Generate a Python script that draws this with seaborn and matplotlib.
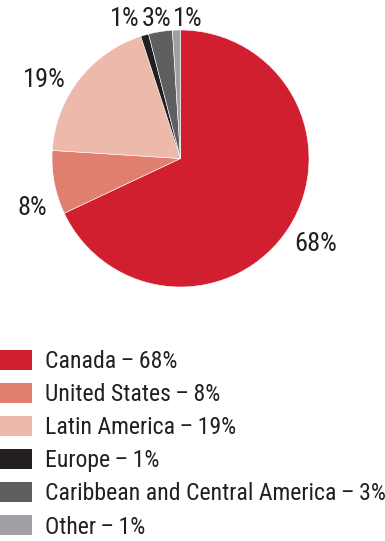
import numpy as np
import seaborn as sns
from matplotlib import pyplot as plt
from matplotlib import font_manager
from matplotlib.patches import Patch

# data
regions = ['Canada', 'United States', 'Latin America', 'Europe',
           'Caribbean and Central America', 'Other']
shares = [68, 8, 19, 1, 3, 1]
colors = ['#D21F2F', '#E07F6D', '#EDB9AA', '#231F20', '#5E5F61', '#9FA0A3']

# label placement (distance from centre, angle nudge in degrees)
label_dist = [1.245, 1.215, 1.225, 1.17, 1.10, 1.09]
label_nudge = [0, 7.6, 7.8, 5.6, 0.6, -4.9]

sns.set_theme(style='white')
names = {f.name for f in font_manager.fontManager.ttflist}
family = 'Roboto'
for cand in ['Liberation Sans Narrow', 'Roboto Condensed', 'Open Sans Condensed',
             'DejaVu Sans Condensed']:
    if cand in names:
        family = cand
        break
plt.rcParams['font.family'] = [family, 'DejaVu Sans']

fig = plt.figure(figsize=(3.85, 5.41), dpi=100)
fig.patch.set_facecolor('white')

# pie box: x 52..309 px, y 30..287 px
ax = fig.add_axes([52 / 385, 1 - 287 / 541, 257 / 385, 257 / 541])
wedges, _ = ax.pie(shares, colors=colors, startangle=90, counterclock=False,
                   wedgeprops=dict(edgecolor='white', linewidth=0.4))
ax.set_xlim(-1, 1)
ax.set_ylim(-1, 1)
ax.set_aspect('equal')
ax.axis('off')

for w, v, d, n in zip(wedges, shares, label_dist, label_nudge):
    mid = np.deg2rad((w.theta1 + w.theta2) / 2 + n)
    ax.text(d * np.cos(mid), d * np.sin(mid), f'{v}%', ha='center', va='center',
            fontsize=19, color='#231F20', clip_on=False)

# legend, font size fitted so the longest entry spans ~338 px
labels = [f'{r}\u2009\u2013\u2009{v}%' for r, v in zip(regions, shares)]
longest = max(labels, key=len)
probe = fig.text(0, 0, longest, fontsize=10)
renderer = fig.canvas.get_renderer()
w10 = probe.get_window_extent(renderer).width
probe.remove()
fs = min(19.0, 10 * 338 / w10)
fpx = fs * 100 / 72

handles = [Patch(facecolor=c, edgecolor='none') for c in colors]
hh = (20 * 72 / 100 / fs - 0.245) / 0.65
fig.legend(handles, labels, loc='upper left', bbox_to_anchor=(0, 1 - 350 / 541),
           frameon=False, fontsize=fs, handlelength=32 / fpx, handleheight=hh,
           handletextpad=13 / fpx, labelspacing=(34.8 - 1.05 * fpx) / fpx,
           borderpad=0, borderaxespad=0, labelcolor='#231F20')

fig.savefig('out.png', dpi=100, facecolor='white')
